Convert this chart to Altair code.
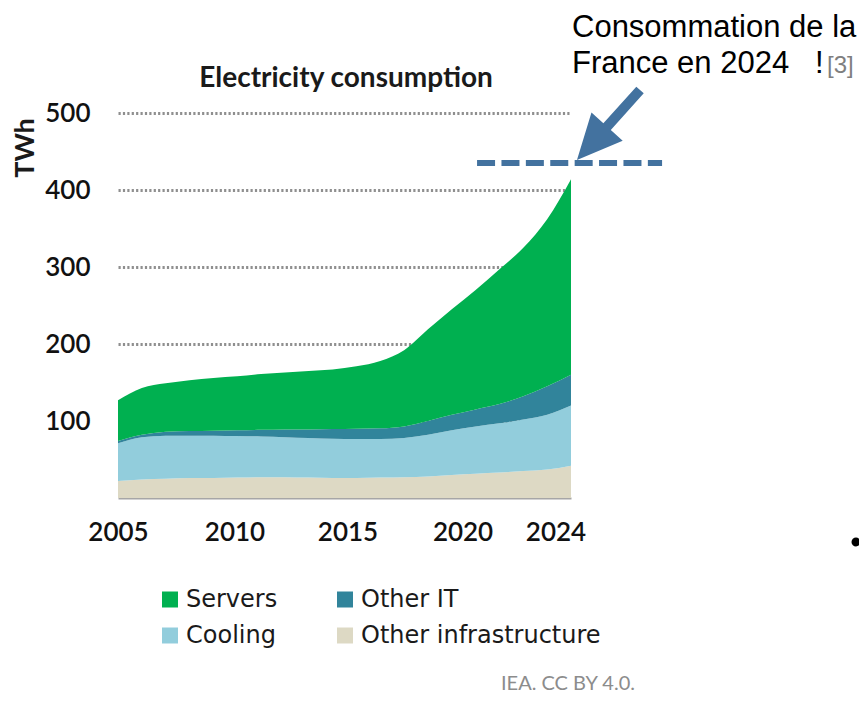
import altair as alt
import pandas as pd

# ---------------- data ----------------
years = list(range(2005, 2025))
other_infrastructure = [22, 24, 25, 26, 26, 26.5, 27, 27, 26.5, 26, 26, 26.5, 27, 28, 30, 31.5, 33, 35, 37, 42]
cooling = [49, 55, 56, 55, 55, 54, 53, 52, 51.5, 51, 50.5, 50, 51, 54, 58, 61.5, 64, 67, 71, 78]
other_it = [3, 3, 5, 6, 6.5, 7.5, 8.5, 10, 11, 12.5, 13.5, 14, 15, 18, 20, 22, 25, 30, 37, 40]
servers = [53, 61, 63, 66, 68.5, 70, 72.5, 74, 76, 77.5, 81, 87.5, 99, 119, 137, 155, 175, 193, 217, 254]

series_names = ["Servers", "Other IT", "Cooling", "Other infrastructure"]
series_colors = ["#00b050", "#31849b", "#92cddc", "#ddd9c4"]
stack_rank = {"Other infrastructure": 0, "Cooling": 1, "Other IT": 2, "Servers": 3}

x_tick_values = [2005, 2010, 2015, 2020, 2024]
y_tick_values = [100, 200, 300, 400, 500]

france_years = [2020.06, 2027.82]
france_twh = [435, 435]

title_text = "Electricity consumption"
y_title_text = "TWh"
note_line1 = "Consommation de la"
note_line2 = "France en 2024"
note_bang = "!"
note_ref = "[3]"
source_text = "IEA. CC BY 4.0."

rows = []
for name, vals in [("Other infrastructure", other_infrastructure), ("Cooling", cooling),
                   ("Other IT", other_it), ("Servers", servers)]:
    for y, v in zip(years, vals):
        rows.append({"year": y, "series": name, "twh": v, "rank": stack_rank[name]})
df = pd.DataFrame(rows)

W, H = 453, 385
x_scale = alt.Scale(domain=[2005, 2024], nice=False, zero=False)
y_scale = alt.Scale(domain=[0, 500], nice=False)

label_off = {
    "condition": [
        {"test": "datum.value == 2010", "value": -2.7},
        {"test": "datum.value == 2015", "value": -8.9},
        {"test": "datum.value == 2020", "value": -13.1},
        {"test": "datum.value == 2024", "value": -15.5},
    ],
    "value": 0,
}

areas = alt.Chart(df).mark_area(interpolate="monotone").encode(
    x=alt.X("year:Q", scale=x_scale,
            axis=alt.Axis(values=x_tick_values, format="d", grid=False, ticks=False,
                          domain=True, domainColor="#a6a6a6", domainWidth=2,
                          labelFont="Lato", labelFontSize=26, labelFontWeight=600,
                          labelColor="#111111",
                          labelPadding=21, labelFlush=False, labelOffset=label_off,
                          title=None)),
    y=alt.Y("twh:Q", stack="zero", scale=y_scale,
            axis=alt.Axis(values=y_tick_values, grid=True, gridDash=[2.2, 2.2],
                          gridColor="#8f8f8f", gridWidth=3, domain=False, ticks=False,
                          labelFont="Lato", labelFontSize=26, labelFontWeight=600,
                          labelColor="#111111",
                          labelPadding=28, title=None)),
    color=alt.Color("series:N",
                    scale=alt.Scale(domain=series_names, range=series_colors),
                    legend=alt.Legend(orient="none", legendX=40, legendY=474.5,
                                      direction="horizontal",
                                      columns=2, title=None, symbolType="square",
                                      symbolSize=256, symbolStrokeWidth=0,
                                      labelFont="DejaVu Sans", labelFontSize=24,
                                      labelColor="#1a1a1a", labelOffset=4,
                                      labelLimit=400, columnPadding=55,
                                      rowPadding=12, padding=0)),
    order=alt.Order("rank:Q", sort="ascending"),
)

france_df = pd.DataFrame({"year": france_years, "twh": france_twh})
france_line = alt.Chart(france_df).mark_line(
    color="#43729f", strokeWidth=6, strokeDash=[18, 6.4], strokeCap="butt", clip=False
).encode(x=alt.X("year:Q", scale=x_scale), y=alt.Y("twh:Q", scale=y_scale))

one = pd.DataFrame({"k": [0]})

arrow_path = ("M0,-1 L0.446,-0.045 L0.106,-0.045 L0.106,1 L-0.106,1 "
              "L-0.106,-0.045 L-0.446,-0.045 Z")
arrow = alt.Chart(one).mark_point(
    shape=arrow_path, filled=True, size=8874, angle=222, color="#43729f",
    opacity=1, strokeWidth=0
).encode(x=alt.value(490.5), y=alt.value(12))

def txt(text, x, y, **kw):
    return alt.Chart(one).mark_text(text=text, **kw).encode(x=alt.value(x), y=alt.value(y))

title = txt(title_text, 228, -34, font="Lato", fontSize=28, fontWeight="bold",
            color="#1a1a1a", align="center", baseline="middle")
ytitle = txt(y_title_text, -92, 35, font="Lato", fontSize=27, fontWeight="bold",
             color="#1a1a1a", align="center", baseline="middle", angle=270)
n1 = txt(note_line1, 454, -76, font="Liberation Sans", fontSize=31, color="#000000",
         align="left", baseline="alphabetic")
n2 = txt(note_line2, 454, -40.3, font="Liberation Sans", fontSize=31, color="#000000",
         align="left", baseline="alphabetic")
n3 = txt(note_bang, 697, -40.3, font="Liberation Sans", fontSize=31, color="#000000",
         align="left", baseline="alphabetic")
n4 = txt(note_ref, 709, -40.3, font="Liberation Sans", fontSize=24, color="#7f7f7f",
         align="left", baseline="alphabetic")
source = txt(source_text, 517, 577, font="Lato", fontSize=20, color="#8c8c8c",
             align="right", baseline="alphabetic")
bullet = alt.Chart(one).mark_point(shape="circle", filled=True, size=80, color="#000000",
                                   opacity=1).encode(x=alt.value(738), y=alt.value(429))

chart = alt.layer(areas, france_line, arrow, title, ytitle, n1, n2, n3, n4, source, bullet).properties(
    width=W, height=H,
    autosize=alt.AutoSizeParams(type="none"),
    padding={"left": 110, "top": 105, "right": 288, "bottom": 196},
).configure(background="#ffffff").configure_view(stroke=None)

chart.save("out.html", embed_options={"renderer": "svg", "actions": False})
